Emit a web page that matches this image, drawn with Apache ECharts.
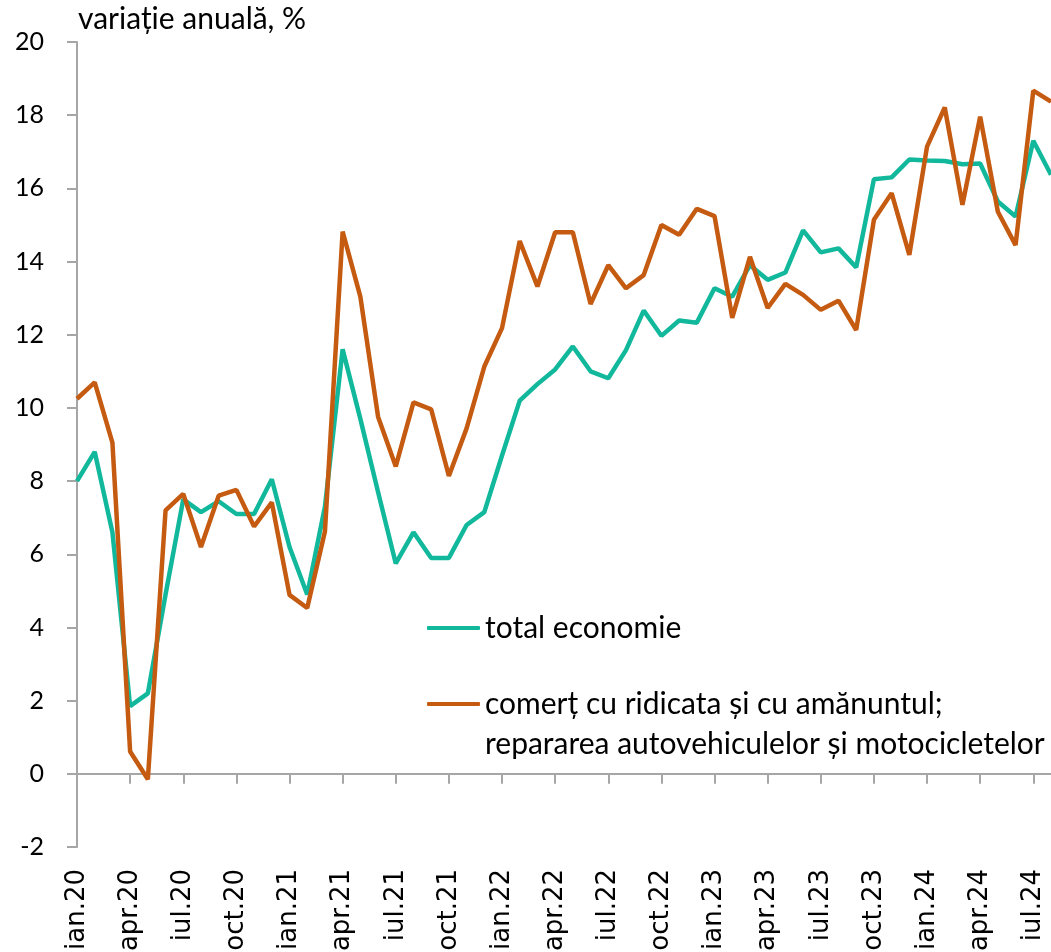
<!DOCTYPE html>
<html>

<head>
    <meta charset="utf-8">
    <script src="https://cdn.jsdelivr.net/npm/echarts@6/dist/echarts.min.js"></script>
</head>

<body style="margin:0">
    <div id="main" style="width: 1051px;height:952px;"></div>
    <script type="text/javascript">
        // luni si ani pentru axa x
        var luni = ['ian', 'feb', 'mar', 'apr', 'mai', 'iun', 'iul', 'aug', 'sep', 'oct', 'nov', 'dec'];
        var ani = ['20', '21', '22', '23', '24'];
        var categorii = [];
        ani.forEach(function (an) {
            luni.forEach(function (l) {
                categorii.push(l + '.' + an);
            });
        });
        categorii = categorii.slice(0, 56); // ian.20 - aug.24

        var numeTotal = 'total economie';
        var numeComert = 'comerț cu ridicata și cu amănuntul;\nrepararea autovehiculelor și motocicletelor';

        var totalEconomie = [8.0, 8.8, 6.6, 1.85, 2.2, 4.9, 7.5, 7.15, 7.45, 7.1, 7.1, 8.05,
            6.2, 4.9, 7.3, 11.6, 9.7, 7.7, 5.75, 6.6, 5.9, 5.9, 6.8, 7.15,
            8.7, 10.2, 10.65, 11.05, 11.68, 11.0, 10.81, 11.58, 12.66, 11.97, 12.39, 12.33,
            13.27, 13.04, 13.9, 13.5, 13.7, 14.85, 14.25, 14.36, 13.84, 16.25, 16.3, 16.79,
            16.76, 16.75, 16.66, 16.68, 15.64, 15.23, 17.3, 16.37];

        var comert = [10.25, 10.7, 9.05, 0.61, -0.15, 7.2, 7.65, 6.2, 7.6, 7.76, 6.76, 7.42,
            4.89, 4.53, 6.62, 14.82, 13.04, 9.76, 8.4, 10.15, 9.96, 8.14, 9.44, 11.13,
            12.18, 14.56, 13.32, 14.8, 14.8, 12.84, 13.9, 13.27, 13.63, 15.0, 14.73, 15.44,
            15.24, 12.46, 14.13, 12.73, 13.39, 13.09, 12.68, 12.93, 12.13, 15.14, 15.87, 14.18,
            17.14, 18.21, 15.55, 17.96, 15.36, 14.45, 18.67, 18.37];

        var chartDom = document.getElementById('main');
        var myChart = echarts.init(chartDom);
        var font = 'Lato';
        var gri = '#A6A6A6';
        var textLegenda = { fontFamily: font, fontSize: 30, color: '#000', lineHeight: 40 };

        var option = {
            animation: false,
            title: {
                text: 'variație anuală, %',
                left: 78,
                top: 4,
                padding: 0,
                textStyle: { fontFamily: font, fontSize: 30, fontWeight: 'normal', color: '#000' }
            },
            legend: [
                {
                    left: 427,
                    top: 608,
                    padding: 0,
                    itemWidth: 53,
                    itemHeight: 4,
                    icon: 'roundRect',
                    textStyle: textLegenda,
                    data: [numeTotal]
                },
                {
                    left: 427,
                    top: 644,
                    padding: 0,
                    itemWidth: 53,
                    itemHeight: 4,
                    icon: 'roundRect',
                    textStyle: textLegenda,
                    // linie goala deasupra ca iconita sa stea pe primul rand
                    formatter: function (name) {
                        return '\n' + name;
                    },
                    data: [numeComert]
                }
            ],
            grid: { left: 77, right: 0, top: 42, bottom: 105, outerBoundsMode: 'none' },
            xAxis: [
                {
                    // etichetele jos
                    type: 'category',
                    data: categorii,
                    boundaryGap: false,
                    position: 'bottom',
                    axisLine: { show: false, onZero: false },
                    axisTick: { show: false },
                    axisLabel: {
                        interval: 2,
                        rotate: 90,
                        margin: 22,
                        overflow: 'none',
                        fontFamily: 'DejaVu Sans',
                        fontSize: 26,
                        color: '#000'
                    }
                },
                {
                    // linia la zero cu gradatii
                    type: 'category',
                    data: categorii,
                    boundaryGap: false,
                    position: 'bottom',
                    axisLine: { show: true, onZero: true, lineStyle: { color: gri, width: 2 } },
                    axisTick: { show: true, interval: 2, length: 10, lineStyle: { color: gri, width: 2 } },
                    axisLabel: { show: false }
                }
            ],
            yAxis: {
                type: 'value',
                min: -2,
                max: 20,
                interval: 2,
                axisLine: { show: true, lineStyle: { color: gri, width: 2 } },
                axisTick: { show: true, length: 10, lineStyle: { color: gri, width: 2 } },
                splitLine: { show: false },
                axisLabel: { margin: 33, fontFamily: font, fontSize: 25, color: '#000' }
            },
            series: [
                {
                    name: numeTotal,
                    type: 'line',
                    data: totalEconomie,
                    showSymbol: false,
                    lineStyle: { color: '#12B89B', width: 4.5 },
                    itemStyle: { color: '#12B89B' }
                },
                {
                    name: numeComert,
                    type: 'line',
                    data: comert,
                    showSymbol: false,
                    lineStyle: { color: '#C55A11', width: 4.5 },
                    itemStyle: { color: '#C55A11' }
                }
            ]
        };
        myChart.setOption(option);
    </script>
</body>

</html>
